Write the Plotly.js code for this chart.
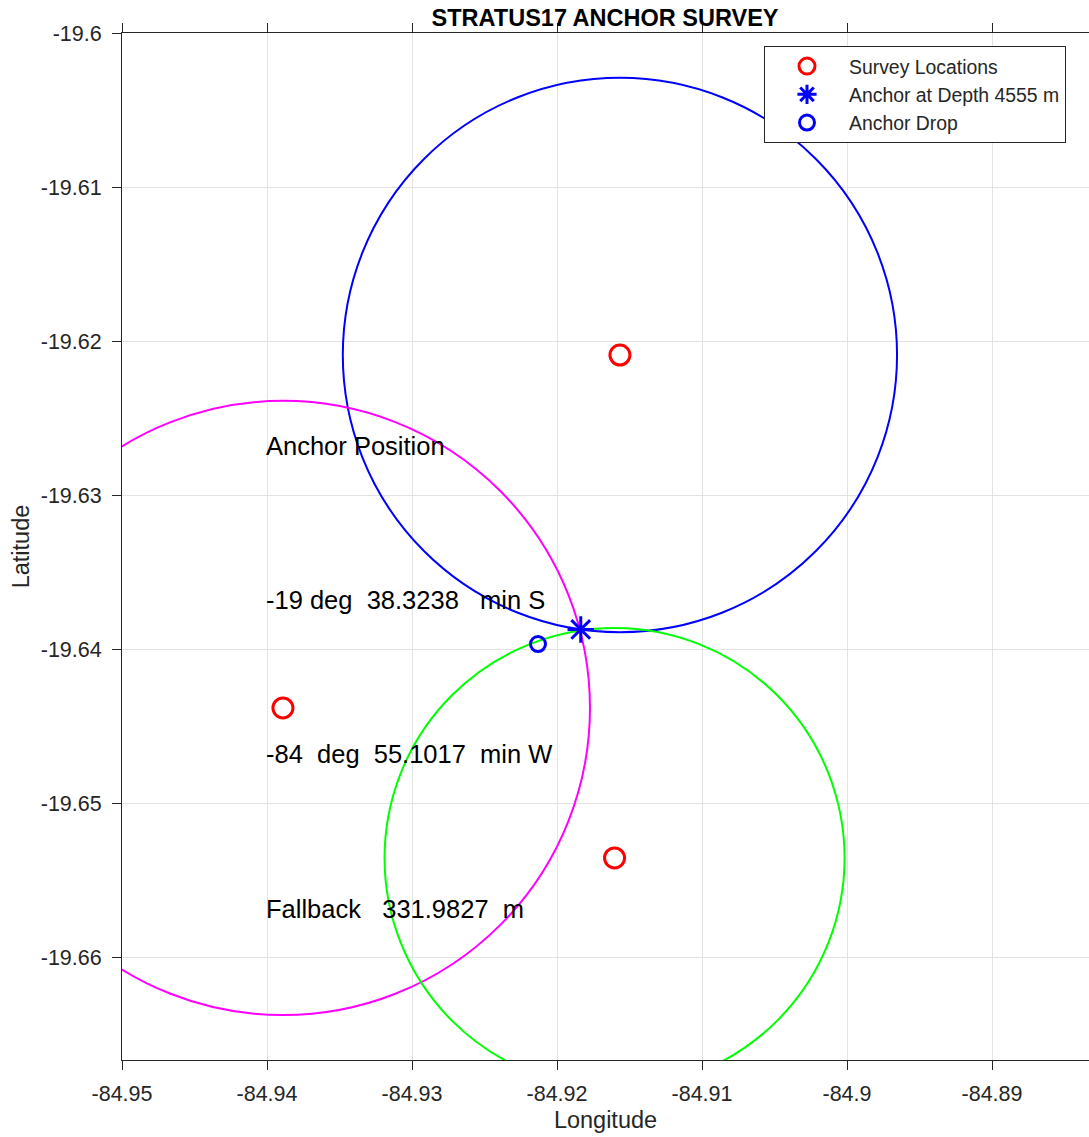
<!DOCTYPE html>
<html>
<head>
<meta charset="utf-8">
<script src="https://cdn.plot.ly/plotly-3.0.1.min.js"></script>
<style>html,body{margin:0;padding:0;background:#fff;}#plot{width:1089px;height:1137px;}</style>
</head>
<body>
<div id="plot"></div>
<script>
// Survey locations (centres of range circles)
const surveyLon = [-84.91566, -84.93890, -84.91603];
const surveyLat = [-19.62091, -19.64383, -19.65357];
// Slant-range circle radii (metres)
const surveyRange = [2004, 2220, 1663];
const circleColors = ['#0000ff', '#ff00ff', '#00ff00'];
// Anchor solution and drop position
const anchorLon = [-84.918362];
const anchorLat = [-19.638730];
const dropLon = [-84.92131];
const dropLat = [-19.63968];
// Text block
const noteLon = [-84.94, -84.94, -84.94, -84.94];
const noteLat = [-19.6268, -19.6368, -19.6468, -19.6569];
const noteText = ['Anchor Position',
  '-19 deg  38.3238   min S',
  '-84  deg  55.1017  min W',
  'Fallback   331.9827  m'];
// Ticks
const xTickVals = [-84.95, -84.94, -84.93, -84.92, -84.91, -84.90, -84.89];
const xTickText = ['-84.95', '-84.94', '-84.93', '-84.92', '-84.91', '-84.9', '-84.89'];
const yTickVals = [-19.60, -19.61, -19.62, -19.63, -19.64, -19.65, -19.66];
const yTickText = ['-19.6', '-19.61', '-19.62', '-19.63', '-19.64', '-19.65', '-19.66'];

const FONT = 'Liberation Sans, Arial, sans-serif';
const M_PER_DEG = 111320;

const shapes = surveyLon.map((lon, i) => {
  const lat = surveyLat[i];
  const dLat = surveyRange[i] / M_PER_DEG;
  const dLon = dLat / Math.cos(lat * Math.PI / 180);
  return {type: 'circle', xref: 'x', yref: 'y', layer: 'between',
    x0: lon - dLon, x1: lon + dLon, y0: lat - dLat, y1: lat + dLat,
    line: {color: circleColors[i], width: 2}};
});

const annotations = noteText.map((t, i) => ({
  x: noteLon[i], y: noteLat[i], xref: 'x', yref: 'y', xshift: -3,
  text: t.replace(/ /g, '\u00a0'), showarrow: false, xanchor: 'left', yanchor: 'middle',
  font: {family: FONT, size: 25.5, color: '#000'}
}));

const traces = [
  {x: surveyLon, y: surveyLat, type: 'scatter', mode: 'markers', name: 'Survey Locations',
   marker: {symbol: 'circle-open', size: 20, color: '#ff0000', line: {width: 3, color: '#ff0000'}}},
  {x: anchorLon, y: anchorLat, type: 'scatter', mode: 'markers', name: 'Anchor at Depth 4555 m',
   marker: {symbol: 'asterisk-open', size: 22, color: '#0000ff', line: {width: 3, color: '#0000ff'}}},
  {x: dropLon, y: dropLat, type: 'scatter', mode: 'markers', name: 'Anchor Drop',
   marker: {symbol: 'circle-open', size: 15, color: '#0000ff', line: {width: 3, color: '#0000ff'}}}
];

const axisCommon = {
  showgrid: true, gridcolor: '#e3e3e3', gridwidth: 1, zeroline: false,
  showline: true, linecolor: '#262626', linewidth: 1,
  ticks: 'outside', ticklen: 9, tickwidth: 1, tickcolor: '#262626',
  tickfont: {family: FONT, size: 21.5, color: '#262626'},
  tickmode: 'array'
};

const layout = {
  width: 1089, height: 1137,
  margin: {l: 122, r: 0, t: 33, b: 77},
  paper_bgcolor: '#fff', plot_bgcolor: '#fff',
  title: {text: '<b>STRATUS17 ANCHOR SURVEY</b>', x: 0.5556, xanchor: 'center',
    xref: 'container', yref: 'container', y: 1 - 18 / 1137, yanchor: 'middle',
    font: {family: FONT, size: 23.5, color: '#000'}},
  xaxis: Object.assign({}, axisCommon, {
    range: [-84.95, -84.95 + 967 / 14500],
    tickvals: xTickVals, ticktext: xTickText, mirror: 'ticks',
    ticklabelstandoff: 5,
    title: {text: 'Longitude', standoff: 6, font: {family: FONT, size: 23.5, color: '#262626'}}
  }),
  yaxis: Object.assign({}, axisCommon, {
    range: [-19.6 - 1027 / 15400, -19.6],
    tickvals: yTickVals, ticktext: yTickText, mirror: false,
    ticklabelstandoff: 6,
    title: {text: 'Latitude', standoff: 4, font: {family: FONT, size: 23.5, color: '#262626'}}
  }),
  showlegend: true,
  legend: {x: (764 - 122) / 967, y: (1060 - 94.5) / 1027, xanchor: 'left', yanchor: 'middle',
    bgcolor: '#fff', bordercolor: '#262626', borderwidth: 1,
    font: {family: FONT, size: 19.4, color: '#262626'}, itemwidth: 74, tracegroupgap: 0},
  shapes: shapes,
  annotations: annotations
};

Plotly.newPlot('plot', traces, layout, {staticPlot: true});
</script>
</body>
</html>
